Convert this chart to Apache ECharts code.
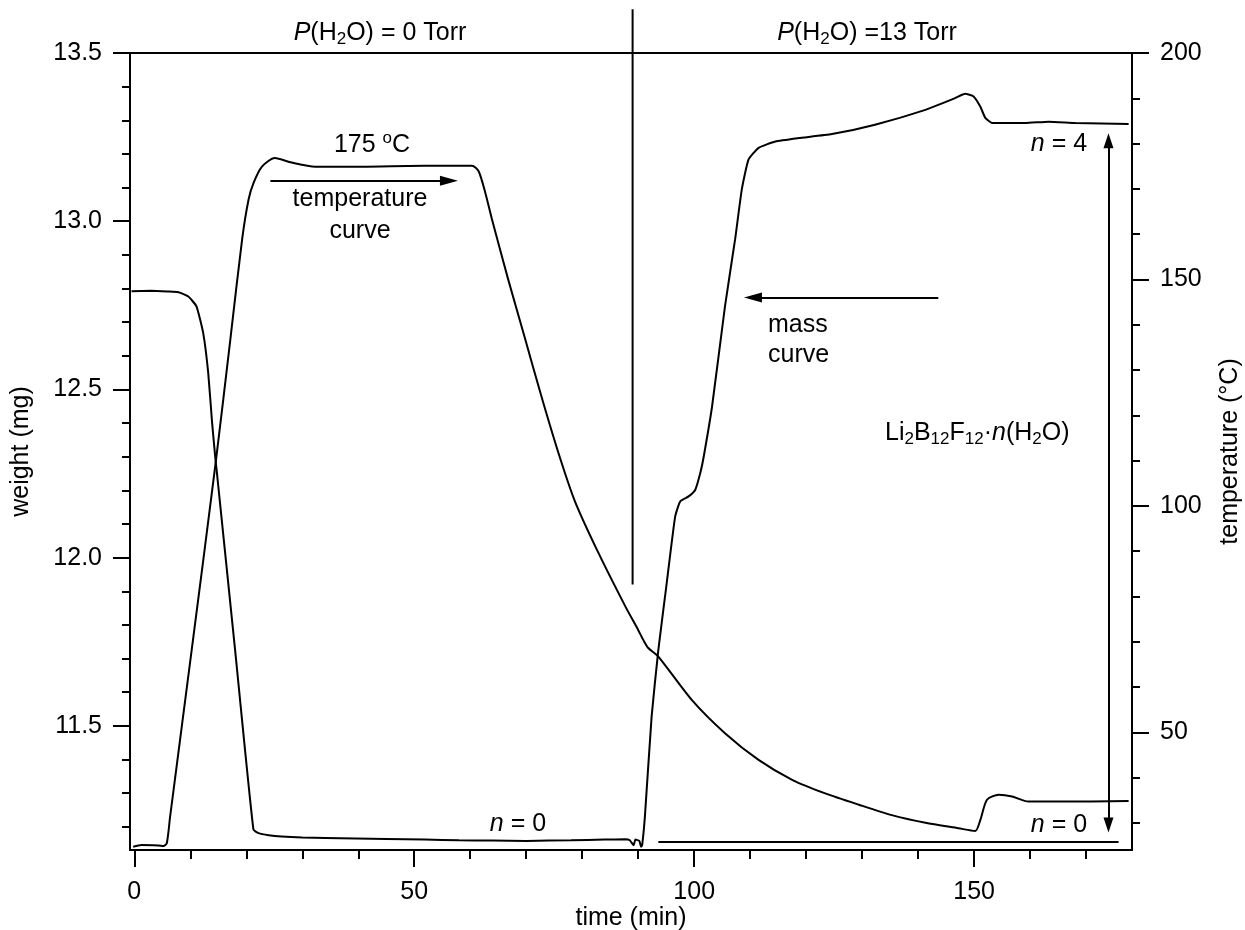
<!DOCTYPE html>
<html>
<head>
<meta charset="utf-8">
<script src="https://cdn.jsdelivr.net/npm/echarts@6/dist/echarts.min.js"></script>
<style>
  html, body { margin: 0; padding: 0; background: #fff; }
  #chart { width: 1245px; height: 930px; }
</style>
</head>
<body>
<div id="chart"></div>
<script>
// mass curve, left axis (mg)
const massTime = [-0.5, 3, 6, 7.9, 9.65, 11.1, 12.3, 13.2, 13.9, 14.5, 14.7, 18.0, 21.27, 22.2, 24, 26.3, 30, 34.1, 45, 51.9,
  58, 63.9, 70, 78, 84, 87.7, 88.5, 89.2, 89.5, 90.2, 90.5, 90.7, 91.2, 92.4, 93.6, 95.1, 96.6, 97.5, 99.0, 100.2,
  101.1, 101.7, 103.2, 105.5, 107.3, 108.5, 109.7, 111.5, 114.5, 118.6, 124.6, 132.3, 141.3, 146.6, 148.4, 149.9,
  151.1, 152.0, 153.2, 159.1, 163.3, 168.1, 177.6];
const massWeight = [12.792, 12.793, 12.791, 12.789, 12.776, 12.747, 12.668, 12.549, 12.40, 12.291, 12.261, 11.726, 11.192,
  11.181, 11.175, 11.171, 11.168, 11.167, 11.164, 11.162, 11.160, 11.159, 11.158, 11.160, 11.162, 11.163, 11.160,
  11.145, 11.162, 11.158, 11.141, 11.145, 11.231, 11.528, 11.726, 11.925, 12.122, 12.167, 12.182, 12.202, 12.252,
  12.30, 12.45, 12.747, 12.945, 13.094, 13.183, 13.218, 13.237, 13.247, 13.259, 13.287, 13.331, 13.366, 13.379,
  13.371, 13.341, 13.307, 13.292, 13.292, 13.296, 13.292, 13.289];

// temperature curve, right axis (°C)
const tempTime = [-0.2, 1.3, 4.3, 5.2, 5.8, 6.4, 10.25, 14.6, 17.15, 19.25, 20.4, 21.3, 22.8, 25.1, 28.1, 32.3, 40, 51.9,
  60.3, 61.5, 62.7, 63.9, 66.8, 69.8, 72.8, 75.8, 78.7, 82.9, 87.7, 90.0, 90.9, 91.8, 93.6, 99.6, 105.5, 111.5,
  117.5, 123.4, 129.4, 135.3, 141.3, 147.2, 150.2, 151.1, 152.3, 154.4, 156.8, 159.7, 165.1, 177.6];
const tempValue = [24.7, 25.1, 25.0, 24.9, 25.5, 31.4, 68.2, 110.2, 136.7, 158.8, 167.6, 171.3, 174.9, 176.8, 175.8,
  174.9, 174.9, 175.1, 175.1, 173.9, 169.1, 163.2, 149.9, 136.9, 123.8, 111.5, 101.0, 89.6, 77.8, 72.6, 70.4, 68.6,
  66.7, 57.1, 49.8, 43.9, 39.5, 36.5, 34.0, 31.7, 30.0, 28.8, 28.2, 30.6, 35.1, 36.2, 35.8, 34.7, 34.7, 34.8];

// ticks
const timeTicks = [0, 50, 100, 150];
const timeMinor = [10, 20, 30, 40, 60, 70, 80, 90, 110, 120, 130, 140, 160, 170];
const weightTicks = [11.5, 12.0, 12.5, 13.0, 13.5];
const weightMinor = [11.2, 11.3, 11.4, 11.6, 11.7, 11.8, 11.9, 12.1, 12.2, 12.3, 12.4, 12.6, 12.7, 12.8, 12.9,
  13.1, 13.2, 13.3, 13.4];
const tempTicks = [50, 100, 150, 200];
const tempMinor = [30, 40, 60, 70, 80, 90, 110, 120, 130, 140, 160, 170, 180, 190];

// annotation lines (time, weight)
const dividerTime = [89.0, 89.0];
const dividerWeight = [11.92, 13.63];
const baseTime = [93.6, 175.8];
const baseWeight = [11.155, 11.155];
const tempArrow = [[24.3, 13.12], [56.2, 13.12]];
const massArrow = [[143.6, 12.773], [110.5, 12.773]];
const rangeArrow = [[174.0, 11.205], [174.0, 13.239]];

const FONT = '"Liberation Sans", Arial, sans-serif';
const black = '#000';

const pairs = (xs, ys) => xs.map((x, i) => [x, ys[i]]);

const chart = echarts.init(document.getElementById('chart'));

const tickStyle = { color: black, width: 2 };
const labelStyle = { color: black, fontSize: 25, fontFamily: FONT };

function majorY(pos, min, max, ticks, name, gap, fmt) {
  return {
    type: 'value', position: pos, min: min, max: max,
    name: name, nameLocation: 'middle', nameGap: gap, nameRotate: 90,
    nameTextStyle: { color: black, fontSize: 25, fontFamily: FONT },
    axisLine: { show: true, onZero: false, lineStyle: { color: black, width: 2 } },
    axisTick: { show: true, inside: false, length: 17, lineStyle: tickStyle, customValues: ticks },
    axisLabel: Object.assign({ margin: 28, customValues: ticks, formatter: fmt }, labelStyle),
    splitLine: { show: false }
  };
}
function minorY(pos, min, max, ticks) {
  return {
    type: 'value', position: pos, min: min, max: max,
    axisLine: { show: false, onZero: false },
    axisTick: { show: true, inside: false, length: 8, lineStyle: tickStyle, customValues: ticks },
    axisLabel: { show: false },
    splitLine: { show: false }
  };
}

const rich = {
  i: { font: 'italic 25px ' + FONT },
  sub: { font: '17px ' + FONT, verticalAlign: 'bottom' },
  sup: { font: '17px ' + FONT, verticalAlign: 'top' }
};
function label(text, x, y, align) {
  return {
    type: 'text', x: x, y: y, silent: true,
    style: {
      text: text, font: '25px ' + FONT, fill: black, lineHeight: 30,
      align: align || 'center', verticalAlign: 'middle', rich: rich
    }
  };
}

const option = {
  backgroundColor: '#fff',
  animation: false,
  grid: {
    left: 130, right: 113, top: 53, bottom: 80, outerBoundsMode: 'none', containLabel: false,
    show: true, borderColor: black, borderWidth: 2
  },
  xAxis: [
    {
      type: 'value', position: 'bottom', min: -0.77, max: 178.2,
      name: 'time (min)', nameLocation: 'middle', nameGap: 56, nameMoveOverlap: false,
      nameTextStyle: { color: black, fontSize: 25, fontFamily: FONT },
      axisLine: { show: true, onZero: false, lineStyle: { color: black, width: 2 } },
      axisTick: { show: true, inside: false, length: 17, lineStyle: tickStyle, customValues: timeTicks },
      axisLabel: Object.assign({ margin: 30, customValues: timeTicks }, labelStyle),
      splitLine: { show: false }
    },
    {
      type: 'value', position: 'bottom', min: -0.77, max: 178.2,
      axisLine: { show: false, onZero: false },
      axisTick: { show: true, inside: false, length: 9, lineStyle: tickStyle, customValues: timeMinor },
      axisLabel: { show: false },
      splitLine: { show: false }
    }
  ],
  yAxis: [
    majorY('left', 11.131, 13.5, weightTicks, 'weight (mg)', 96, v => v.toFixed(1)),
    majorY('right', 24, 200, tempTicks, 'temperature (°C)', 86, v => String(Math.round(v))),
    minorY('left', 11.131, 13.5, weightMinor),
    minorY('right', 24, 200, tempMinor)
  ],
  series: [
    {
      name: 'mass', type: 'line', xAxisIndex: 0, yAxisIndex: 0,
      data: pairs(massTime, massWeight), showSymbol: false, smooth: 0.15,
      lineStyle: { color: black, width: 2 }, silent: true
    },
    {
      name: 'temperature', type: 'line', xAxisIndex: 0, yAxisIndex: 1,
      data: pairs(tempTime, tempValue), showSymbol: false, smooth: 0.25,
      lineStyle: { color: black, width: 2 }, silent: true
    },
    {
      name: 'divider', type: 'line', xAxisIndex: 0, yAxisIndex: 0, clip: false,
      data: pairs(dividerTime, dividerWeight), showSymbol: false,
      lineStyle: { color: black, width: 2 }, silent: true
    },
    {
      name: 'n0', type: 'line', xAxisIndex: 0, yAxisIndex: 0,
      data: pairs(baseTime, baseWeight), showSymbol: false,
      lineStyle: { color: black, width: 2 }, silent: true,
      markLine: {
        silent: true, animation: false,
        symbol: ['none', 'triangle'], symbolSize: [10, 18],
        label: { show: false },
        lineStyle: { color: black, width: 2, type: 'solid' },
        emphasis: { disabled: true },
        data: [
          [{ coord: tempArrow[0] }, { coord: tempArrow[1] }],
          [{ coord: massArrow[0] }, { coord: massArrow[1] }]
        ]
      }
    },
    {
      name: 'range', type: 'line', xAxisIndex: 0, yAxisIndex: 0,
      data: [], showSymbol: false, silent: true,
      markLine: {
        silent: true, animation: false,
        symbol: ['triangle', 'triangle'], symbolSize: [10, 15],
        label: { show: false },
        lineStyle: { color: black, width: 2, type: 'solid' },
        emphasis: { disabled: true },
        data: [[{ coord: rangeArrow[0] }, { coord: rangeArrow[1] }]]
      }
    }
  ],
  graphic: [
    label('{i|P}(H{sub|2}O) = 0 Torr', 380, 33),
    label('{i|P}(H{sub|2}O) =13 Torr', 867, 33),
    label('175 {sup|o}C', 372, 145),
    label('temperature', 360, 199),
    label('curve', 360, 231),
    label('mass', 768, 325, 'left'),
    label('curve', 768, 355, 'left'),
    label('Li{sub|2}B{sub|12}F{sub|12}·{i|n}(H{sub|2}O)', 885, 433, 'left'),
    label('{i|n} = 4', 1059, 144),
    label('{i|n} = 0', 1059, 825),
    label('{i|n} = 0', 518, 824)
  ]
};

chart.setOption(option);
</script>
</body>
</html>
